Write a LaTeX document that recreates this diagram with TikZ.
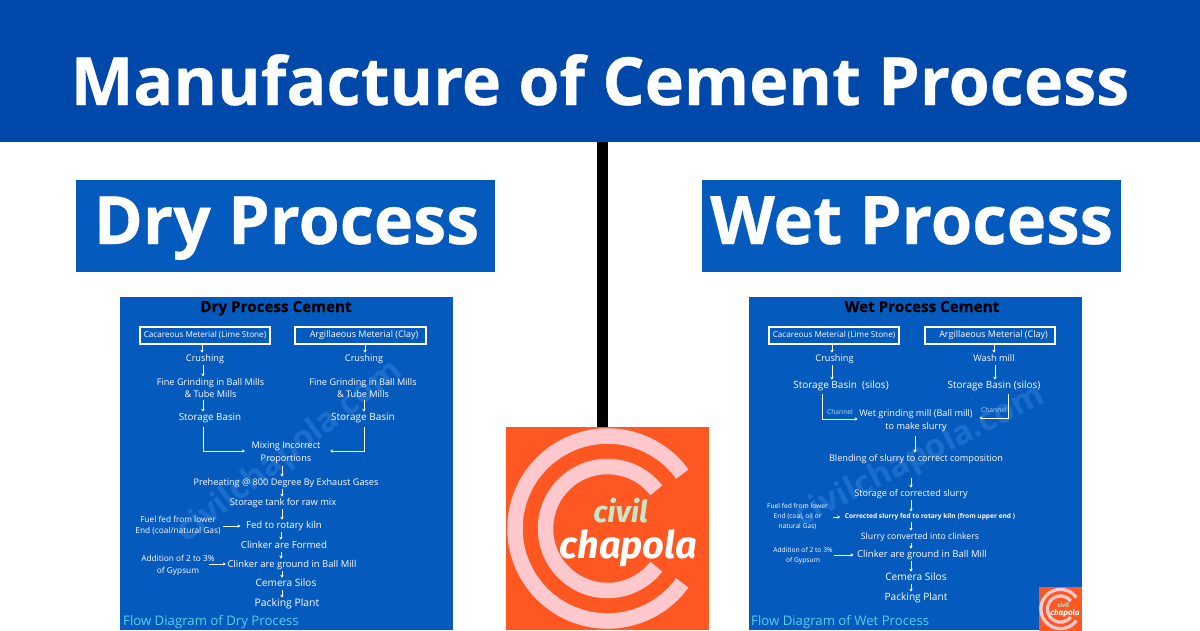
\documentclass[tikz,border=0pt]{standalone}
\usepackage{fontspec}
\setmainfont{Open Sans}
\newfontfamily\logofont[BoldItalicFont={* Bold Italic}]{Fira Sans}
\newfontfamily\heavyfont[FakeBold=0.5]{Open Sans Bold}
\usetikzlibrary{arrows.meta}
\definecolor{bannerblue}{RGB}{0,72,170}
\definecolor{panelblue}{RGB}{5,90,190}
\definecolor{markblue}{RGB}{28,110,204}
\definecolor{flowcyan}{RGB}{90,205,230}
\definecolor{chanblue}{RGB}{190,215,240}
\definecolor{logoorange}{RGB}{255,87,34}
\definecolor{logopink}{RGB}{255,200,205}
\definecolor{logogreen}{RGB}{200,230,200}
\newcommand\fs[1]{\fontsize{#1}{#1}\selectfont}
\tikzset{
  x=1pt,y=1pt,
  tx/.style={text=white,inner sep=1.5pt,font=\fs{9.15},text height=.72em,text depth=.2em,yshift=-1pt},
  txm/.style={text=white,inner sep=1.5pt,font=\fs{9.15},align=center,yshift=-1pt},
  sm/.style={text=white,inner sep=1.5pt,font=\fs{8.3},align=center,yshift=-.5pt},
  smr/.style={text=white,inner sep=1.5pt,font=\fs{6.7},align=center,yshift=-.5pt},
  chan/.style={text=chanblue,inner sep=0pt,font=\fs{6.7}},
  head/.style={text=black,inner sep=0pt,anchor=base,font=\heavyfont\fs{15.2}},
  flow/.style={text=flowcyan,inner sep=0pt,anchor=west,font=\fs{13.2}},
  mat/.style={draw=white,line width=2pt,minimum width=130.5pt,minimum height=17pt,inner sep=0pt},
  arr/.style={draw=white,line width=.9pt,-{Stealth[length=3pt,width=3.4pt]}},
  bigt/.style={text=white,inner sep=0pt,anchor=base,font=\heavyfont\fs{66.4}},
  wm/.style={text=markblue,inner sep=0pt,font=\fs{33}\bfseries},
}
\newcommand\vc[4][]{\draw[arr,#1] (#2.south -| #4,0) -- (#3.north -| #4,0);}
\newcommand\hc[4][]{\draw[arr,#1] (#2.east |- 0,#4) -- (#3.west |- 0,#4);}
\newcommand\logomark[4]{%
  \begin{scope}[shift={(#1,#2)},scale=#3,transform shape]
    \fill[logoorange] (-101.5,-101.5) rectangle (101.5,101.5);
    \draw[logopink,line width={#3*15.5pt}] (36:92.5) arc (36:324:92.5);
    \draw[logopink,line width={#3*15.5pt}] (38:62) arc (38:322:62);
    \node[inner sep=0pt,text=logogreen,font=\logofont\fs{30}\bfseries\itshape] (#4civil) at (13,18) {civil};
    \node[inner sep=0pt,text=white,font=\logofont\fs{38}\bfseries\itshape] (#4chapola) at (21,-20) {chapola};
  \end{scope}}
\begin{document}
\begin{tikzpicture}
\useasboundingbox (0,0) rectangle (1200,-630);
\fill[white] (0,0) rectangle (1200,-630);
% banner
\fill[bannerblue] (0,0) rectangle (1200,-142);
\node[bigt] (title) at (600,-105) {Manufacture of Cement Process};
\fill[black] (597,-142) rectangle (608,-430);
\fill[panelblue] (76,-180) rectangle (495,-272);
\fill[panelblue] (702,-180) rectangle (1121,-272);
\node[bigt] (dryt) at (286.5,-244) {Dry Process};
\node[bigt,font=\heavyfont\fs{67}] (wett) at (911.5,-244) {Wet Process};
% panels
\fill[panelblue] (120,-297) rectangle (452.5,-630);
\fill[panelblue] (749,-297) rectangle (1082,-630);
\node[wm,rotate=38] (wmd) at (290,-452) {civilchapola.com};
\node[wm,rotate=27] (wmw) at (920,-457) {civilchapola.com};
% ---------- dry
\node[head] (dh) at (276,-312) {Dry Process Cement};
\node[mat,font=\fs{8.15},text=white] (d1) at (205,-335.5) {\raisebox{-.7pt}{Cacareous Meterial (Lime Stone)}};
\node[mat,font=\fs{9},text=white] (d2) at (360.5,-335.5) {\raisebox{-.7pt}{\hspace*{7pt}Argillaeous Meterial (Clay)}};
\node[tx] (d3) at (205,-358) {Crushing};
\node[tx] (d4) at (364,-358) {Crushing};
\node[txm] (d5) at (210.5,-387) {Fine Grinding in Ball Mills\\[3.6pt]\& Tube Mills};
\node[txm] (d6) at (363,-387) {Fine Grinding in Ball Mills\\[3.6pt]\& Tube Mills};
\node[tx,font=\fs{9.8}] (d7) at (210,-417) {Storage Basin};
\node[tx,font=\fs{10}] (d8) at (363,-417) {Storage Basin};
\node[txm] (d9) at (286,-452) {Mixing Incorrect\\[3.6pt]Proportions};
\node[tx] (d10) at (286,-482) {Preheating @ 800 Degree By Exhaust Gases};
\node[tx,font=\fs{9.3}] (d11) at (283,-502) {Storage tank for raw mix};
\node[tx,font=\fs{9.6}] (d12) at (284,-525) {Fed to rotary kiln};
\node[sm] (d13) at (178,-525) {Fuel fed from lower\\[3.4pt]End (coal/natural Gas)};
\node[tx,font=\fs{9.7}] (d14) at (284,-545) {Clinker are Formed};
\node[tx,font=\fs{9.45}] (d15) at (292,-564) {Clinker are ground in Ball Mill};
\node[sm] (d16) at (178,-565) {Addition of 2 to 3\%\\[3.4pt]of Gypsum};
\node[tx,font=\fs{10.1}] (d17) at (286,-583) {Cemera Silos};
\node[tx,font=\fs{10.4}] (d18) at (287,-603) {Packing Plant};
\node[flow] (df) at (123,-622) {Flow Diagram of Dry Process};
\vc{d1}{d3}{202}
\vc{d3}{d5}{203}
\vc{d5}{d7}{203}
\vc{d2}{d4}{365}
\vc{d6}{d8}{364}
\draw[arr,shorten >=5pt] (d7.south -| 203,0) ++(0,-3) |- (d9.west |- 0,-451);
\draw[arr,shorten >=8pt] (d8.south -| 364,0) ++(0,-3) |- (d9.east |- 0,-451);
\vc{d9}{d10}{282}
\vc{d10}{d11}{282}
\vc{d11}{d12}{282}
\vc{d12}{d14}{281}
\vc{d14}{d15}{281}
\vc{d15}{d17}{282}
\vc{d17}{d18}{282}
\hc[shorten >=4pt,shorten <=1pt]{d13}{d12}{-526}
\hc[shorten <=-7pt]{d16}{d15}{-564}
% ---------- wet
\node[head] (wh) at (922,-312) {Wet Process Cement};
\node[mat,font=\fs{8.15},text=white] (w1) at (834,-335.5) {\raisebox{-.7pt}{Cacareous Meterial (Lime Stone)}};
\node[mat,font=\fs{9},text=white] (w2) at (990,-335.5) {\raisebox{-.7pt}{\hspace*{7pt}Argillaeous Meterial (Clay)}};
\node[tx] (w3) at (834.5,-358) {Crushing};
\node[tx] (w4) at (994,-358) {Wash mill};
\node[tx,font=\fs{10}] (w5) at (841,-385) {Storage Basin\ \ (silos)};
\node[tx,font=\fs{10}] (w6) at (994,-385) {Storage Basin (silos)};
\node[chan] (wc1) at (840,-412) {Channel};
\node[chan] (wc2) at (994,-410) {Channel};
\node[txm] (w7) at (916,-419.5) {Wet grinding mill (Ball mill)\\[3.6pt]to make slurry};
\node[tx] (w8) at (916,-458) {Blending of slurry to correct composition};
\node[tx] (w9) at (911,-493) {Storage of corrected slurry};
\node[smr] (w10) at (797.5,-516) {Fuel fed from lower\\[3.4pt]End (coal, oil or\\[3.4pt]natural Gas)};
\node[smr,font=\fs{6.6}\bfseries] (w11) at (930,-516) {Corrected slurry fed to rotary kiln (from upper end )};
\node[tx,font=\fs{8.7}] (w12) at (920,-536) {Slurry converted into clinkers};
\node[smr] (w13) at (803,-555) {Addition of 2 to 3\%\\[3.4pt]of Gypsum};
\node[tx,font=\fs{9.5}] (w14) at (922,-554) {Clinker are ground in Ball Mill};
\node[tx,font=\fs{10.2}] (w15) at (916,-577) {Cemera Silos};
\node[tx,font=\fs{10.1}] (w16) at (916,-597) {Packing Plant};
\node[flow] (wf) at (751,-622) {Flow Diagram of Wet Process};
\vc{w1}{w3}{832}
\vc{w3}{w5}{832}
\vc{w2}{w4}{994}
\vc{w4}{w6}{995}
\draw[arr] (w5.south -| 822,0) ++(0,-2) |- (w7.west |- 0,-419);
\draw[arr,shorten >=5pt] (w6.south -| 1008,0) ++(0,-2) |- (w7.east |- 0,-418);
\vc[shorten <=3pt]{w7}{w8}{915}
\vc[shorten <=13pt]{w8}{w9}{911}
\vc{w9}{w11}{911}
\vc{w11}{w12}{911}
\vc{w12}{w14}{911}
\vc{w14}{w15}{911}
\vc{w15}{w16}{911}
\hc[shorten <=3pt,shorten >=3pt]{w10}{w11}{-517}
\hc[shorten >=2pt]{w13}{w14}{-555}
% logos
\logomark{607.5}{-528.5}{1}{big}
\logomark{1060.5}{-609}{.212}{small}
\end{tikzpicture}
\end{document}
